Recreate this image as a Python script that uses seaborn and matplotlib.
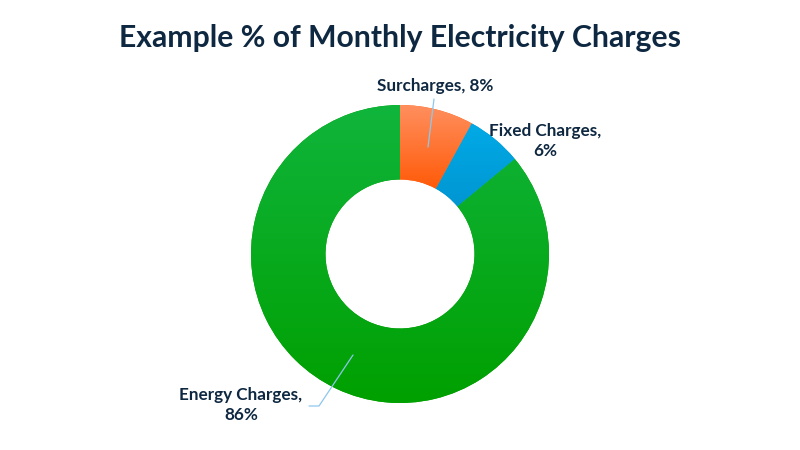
import numpy as np
import matplotlib.pyplot as plt
import seaborn as sns
from matplotlib.colors import LinearSegmentedColormap

sns.set_theme(style='white')
plt.rcParams['font.family'] = ['Lato', 'DejaVu Sans']

labels = ['Surcharges', 'Fixed Charges', 'Energy Charges']
values = [8, 6, 86]
# top / bottom colours of each slice's gradient
tops = ['#FF8F5E', '#00AAE6', '#10B53C']
bottoms = ['#FF5A08', '#0096D2', '#00A000']

navy = '#0E2841'
leader = '#8CC8EE'

fig = plt.figure(figsize=(8, 4.5), dpi=100)
ax = fig.add_axes([0, 0, 1, 1])

cx, cy, r = 400, 196, 149
wedges, _ = ax.pie(values, startangle=90, counterclock=False, center=(cx, cy),
                   radius=r, colors=bottoms, frame=True,
                   wedgeprops=dict(width=r * 0.5, linewidth=0))

for w, t, b in zip(wedges, tops, bottoms):
    ext = w.get_path().get_extents()
    cmap = LinearSegmentedColormap.from_list('g', [b, t])
    grad = np.linspace(0, 1, 256).reshape(-1, 1)
    im = ax.imshow(grad, cmap=cmap, origin='lower', aspect='auto',
                   extent=[ext.x0, ext.x1, ext.y0, ext.y1], zorder=3)
    im.set_clip_path(w)

ax.set_xlim(0, 800)
ax.set_ylim(0, 450)
ax.set_aspect('auto')
ax.axis('off')

fig.text(0.5, 1 - 38 / 450, 'Example % of Monthly Electricity Charges', ha='center',
         va='center', fontsize=21.7, fontweight='bold', color=navy)

lab_kw = dict(fontsize=12.3, fontweight='bold', color=navy, ha='center', va='center',
              linespacing=1.25, zorder=5)
ax.text(435, 450 - 86, f'{labels[0]}, {values[0]}%', **lab_kw)
ax.text(545, 450 - 141, f'{labels[1]},\n{values[1]}%', **lab_kw)
ax.text(241, 450 - 405, f'{labels[2]},\n{values[2]}%', **lab_kw)

ax.plot([434, 428], [450 - 99, 450 - 147], color=leader, lw=0.9, zorder=6)
ax.plot([309, 319, 353], [450 - 406, 450 - 406, 450 - 355], color=leader, lw=0.9, zorder=6)

fig.savefig('out.png', dpi=100, facecolor='white')
